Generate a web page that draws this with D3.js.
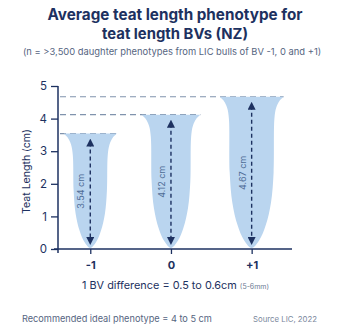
<!DOCTYPE html>
<html>
<head>
<meta charset="utf-8">
<script src="https://cdn.jsdelivr.net/npm/d3@7"></script>
<style>
	body { margin: 0; background: #fff; }
	svg { display: block; font-family: Inter, 'Noto Sans', sans-serif; }
</style>
</head>
<body>
<svg id="chart" width="350" height="327"></svg>
<script>
// chart data
const bvs = [-1, 0, 1]
const teatLength = [3.54, 4.12, 4.67]
const bvLabels = ['-1', '0', '+1']
const yTicks = [0, 1, 2, 3, 4, 5]

const navy = '#1d3160'
const fill = '#bad5ef'

const svg = d3.select('#chart')

let x = d3.scaleLinear().domain([-1.4, 1.5]).range([58, 292])
let y = d3.scaleLinear().domain([0, 5]).range([249, 86])

// scale a text's font so it spans the wanted width
function fit(sel, width) {
	let fs = parseFloat(sel.style('font-size'))
	let len = sel.node().getComputedTextLength()
	sel.style('font-size', (fs * width / len).toFixed(2) + 'px')
	return sel
}

// titles
fit(svg.append('text')
	.attr('x', 175).attr('y', 20)
	.attr('text-anchor', 'middle')
	.style('font-size', '15.5px').style('font-weight', 700)
	.style('fill', navy)
	.text('Average teat length phenotype for'), 255)
fit(svg.append('text')
	.attr('x', 175).attr('y', 39)
	.attr('text-anchor', 'middle')
	.style('font-size', '15.5px').style('font-weight', 700)
	.style('fill', navy)
	.text('teat length BVs (NZ)'), 146)
fit(svg.append('text')
	.attr('x', 172).attr('y', 55)
	.attr('text-anchor', 'middle')
	.style('font-size', '8px')
	.style('fill', '#56657f')
	.text('(n = >3,500 daughter phenotypes from LIC bulls of BV -1, 0 and +1)'), 299)

// dashed reference lines at each mean
let data = bvs.map((b, i) => ({bv: b, v: teatLength[i], label: bvLabels[i]}))
let bodyHalf = d => 4.7 * d.v
let topHalf = d => bodyHalf(d) + 10

svg.selectAll('.ref')
	.data(data)
	.enter().append('line')
	.attr('class', 'ref')
	.attr('x1', 60).attr('x2', d => x(d.bv) + topHalf(d))
	.attr('y1', d => y(d.v)).attr('y2', d => y(d.v))
	.style('stroke', '#8093ad')
	.style('stroke-width', 1.2)
	.style('stroke-dasharray', '6,4')

// teat shapes
let outline = d => {
	let top = y(d.v), bot = y(0) - 1, H = bot - top
	let b = bodyHalf(d), t = topHalf(d)
	let prof = [
		[0, t], [4, t - 4], [11, b + 2.6], [22, b + 0.8],
		[0.5 * H, b], [0.7 * H, b * 0.88], [0.85 * H, b * 0.64], [0.95 * H, b * 0.34]
	]
	let cx = x(d.bv)
	let left = prof.map(p => [cx - p[1], top + p[0]])
	let right = prof.slice().reverse().map(p => [cx + p[1], top + p[0]])
	let pts = left.concat([[cx, bot]], right)
	return d3.line().curve(d3.curveCatmullRom)(pts) + 'Z'
}

svg.selectAll('.teat')
	.data(data)
	.enter().append('path')
	.attr('class', 'teat')
	.attr('d', outline)
	.style('fill', fill)

// arrows
let defs = svg.append('defs')
defs.append('marker')
	.attr('id', 'head')
	.attr('viewBox', '0 0 10 10')
	.attr('refX', 5).attr('refY', 5)
	.attr('markerWidth', 8).attr('markerHeight', 8)
	.attr('markerUnits', 'userSpaceOnUse')
	.attr('orient', 'auto-start-reverse')
	.append('path')
	.attr('d', 'M0,0 L10,5 L0,10 Z')
	.style('fill', navy)

svg.selectAll('.arrow')
	.data(data)
	.enter().append('line')
	.attr('class', 'arrow')
	.attr('x1', d => x(d.bv)).attr('x2', d => x(d.bv))
	.attr('y1', d => y(d.v) + 9).attr('y2', y(0) - 8)
	.attr('marker-start', 'url(#head)')
	.attr('marker-end', 'url(#head)')
	.style('stroke', navy)
	.style('stroke-width', 1.4)
	.style('stroke-dasharray', '4,3')

svg.selectAll('.vlabel')
	.data(data)
	.enter().append('text')
	.attr('class', 'vlabel')
	.attr('transform', d => `translate(${x(d.bv) - 6},${(y(d.v) + y(0)) / 2}) rotate(-90)`)
	.attr('text-anchor', 'middle')
	.style('font-size', '9px')
	.style('fill', '#4f6c96')
	.text(d => d.v + ' cm')

// axes
let yAxis = svg.append('g')
	.attr('transform', 'translate(58,0)')
	.call(d3.axisLeft(y).tickValues(yTicks).tickFormat(d3.format('d')).tickSize(7).tickPadding(4))
yAxis.select('.domain').remove()
yAxis.selectAll('line').style('stroke', navy).style('stroke-width', 1.3)
yAxis.selectAll('text').style('fill', navy).style('font-size', '11.5px')
	.style('font-family', 'Inter, sans-serif')

svg.append('line')
	.attr('x1', 58).attr('x2', 58)
	.attr('y1', y(5)).attr('y2', y(0) + 4)
	.style('stroke', navy).style('stroke-width', 1.5)

let xAxis = svg.append('g')
	.attr('transform', `translate(0,${y(0)})`)
	.call(d3.axisBottom(x).tickValues(bvs).tickFormat((d, i) => bvLabels[i]).tickSize(5).tickPadding(7))
xAxis.select('.domain').remove()
xAxis.selectAll('line').style('stroke', navy).style('stroke-width', 1.3)
xAxis.selectAll('text').style('fill', navy).style('font-size', '11px')
	.style('font-weight', 700).style('font-family', 'Inter, sans-serif')

svg.append('line')
	.attr('x1', 54).attr('x2', 292)
	.attr('y1', y(0)).attr('y2', y(0))
	.style('stroke', navy).style('stroke-width', 1.5)

fit(svg.append('text')
	.attr('transform', `translate(30,${(y(0) + y(5)) / 2 + 4}) rotate(-90)`)
	.attr('text-anchor', 'middle')
	.style('font-size', '11.5px')
	.style('fill', navy)
	.text('Teat Length (cm)'), 85)

// notes
let note = svg.append('text')
	.attr('x', 82).attr('y', 289)
	.style('fill', navy)
let main = note.append('tspan').style('font-size', '12px').text('1 BV difference = 0.5 to 0.6cm')
let mlen = main.node().getComputedTextLength()
main.style('font-size', (12 * 155 / mlen).toFixed(2) + 'px')
note.append('tspan').attr('dx', 3).style('font-size', '7px').style('fill', '#6c7a93').text('(5-6mm)')

fit(svg.append('text')
	.attr('x', 22).attr('y', 322)
	.style('font-size', '8.6px')
	.style('fill', '#56657f')
	.text('Recommended ideal phenotype = 4 to 5 cm'), 190)
fit(svg.append('text')
	.attr('x', 317).attr('y', 322)
	.attr('text-anchor', 'end')
	.style('font-size', '8.6px')
	.style('fill', '#7a879c')
	.text('Source LIC, 2022'), 64)
</script>
</body>
</html>
